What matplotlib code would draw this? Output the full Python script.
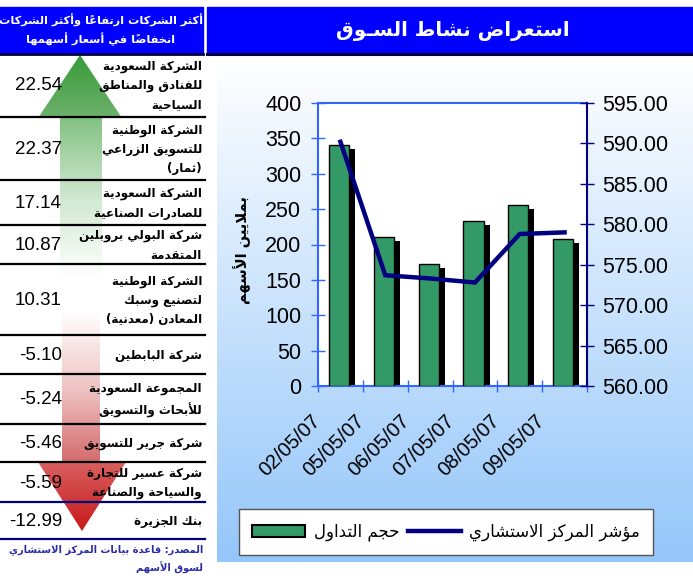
import numpy as np
import matplotlib
matplotlib.use('Agg')
import matplotlib.pyplot as plt
from matplotlib.patches import Rectangle, Polygon, Patch
from matplotlib.lines import Line2D
from matplotlib.colors import to_rgb
from matplotlib.ticker import FormatStrFormatter
from matplotlib.transforms import offset_copy, ScaledTranslation

# ---- data -------------------------------------------------------------
dates = ['02/05/07', '05/05/07', '06/05/07', '07/05/07', '08/05/07', '09/05/07']
volume = [341, 211, 172, 233, 256, 208]          # millions of shares
index_pts = [590.2, 573.7, 573.3, 572.8, 578.8, 579.0]

companies = [
    'الشركة السعودية\nللفنادق والمناطق\nالسياحية',
    'الشركة الوطنية\nللتسويق الزراعي\n(ثمار)',
    'الشركة السعودية\nللصادرات الصناعية',
    'شركة البولي بروبلين\nالمتقدمة',
    'الشركة الوطنية\nلتصنيع وسبك\nالمعادن (معدنية)',
    'شركة البابطين',
    'المجموعة السعودية\nللأبحاث والتسويق',
    'شركة جرير للتسويق',
    'شركة عسير للتجارة\nوالسياحة والصناعة',
    'بنك الجزيرة',
]
changes = [22.54, 22.37, 17.14, 10.87, 10.31, -5.10, -5.24, -5.46, -5.59, -12.99]

title = 'استعراض نشاط السـوق'
side_title = 'أكثر الشركات ارتفاعاً وأكثر الشركات\nانخفاضاً في أسعار أسهمها'
source = 'المصدر: قاعدة بيانات المركز الاستشاري\nلسوق الأسهم'
ylabel = 'بملايين الأسهم'
legend_labels = ['حجم التداول', 'مؤشر المركز الاستشاري']


# ---- minimal arabic shaping (matplotlib has no bidi / joining) ---------
_letters = list(range(0x621, 0x63B)) + list(range(0x641, 0x64B))
_counts = [1, 2, 2, 2, 2, 4, 2, 4, 2, 4, 4, 4, 4, 4, 2, 2, 2, 2, 4, 4, 4, 4, 4, 4, 4, 4,
           4, 4, 4, 4, 4, 4, 4, 2, 2, 4]
FORMS = {}
_pos = 0xFE80
for _cp, _n in zip(_letters, _counts):
    FORMS[chr(_cp)] = [chr(_pos + k) for k in range(_n)]
    _pos += _n
LAMALEF = {'\u0622': ('\uFEF5', '\uFEF6'), '\u0623': ('\uFEF7', '\uFEF8'),
           '\u0625': ('\uFEF9', '\uFEFA'), '\u0627': ('\uFEFB', '\uFEFC')}
MARKS = set(chr(c) for c in range(0x64B, 0x653)) | {'\u0670'}


def _jtype(key):
    if key.startswith('LA') and len(key) == 3:
        return 'R'
    if key == '\u0640':
        return 'D'
    f = FORMS.get(key)
    if f is None:
        return 'U'
    return {1: 'U', 2: 'R', 4: 'D'}[len(f)]


def _shape_line(s):
    units = []
    for ch in s:
        if ch in MARKS and units:
            units[-1][1] += ch
        else:
            units.append([ch, ''])
    merged = []
    i = 0
    while i < len(units):
        ch, mk = units[i]
        if ch == '\u0644' and i + 1 < len(units) and units[i + 1][0] in LAMALEF:
            merged.append(['LA' + units[i + 1][0], mk + units[i + 1][1]])
            i += 2
        else:
            merged.append([ch, mk])
            i += 1
    glyphs = []
    for i, (key, mk) in enumerate(merged):
        t = _jtype(key)
        p = t in 'RD' and i > 0 and _jtype(merged[i - 1][0]) == 'D'
        n = t == 'D' and i + 1 < len(merged) and _jtype(merged[i + 1][0]) in 'RD'
        if key.startswith('LA') and len(key) == 3:
            g = LAMALEF[key[2]][1 if p else 0]
        elif key == '\u0640' or t == 'U':
            g = FORMS[key][0] if key in FORMS else key
        elif t == 'R':
            g = FORMS[key][1 if p else 0]
        else:
            g = FORMS[key][3 if (p and n) else 1 if p else 2 if n else 0]
        g = {'(': ')', ')': '('}.get(g, g)
        glyphs.append(g + mk)
    return ''.join(reversed(glyphs))


def ar(text):
    return '\n'.join(_shape_line(l) for l in text.split('\n'))


# ---- figure -------------------------------------------------------------
W, H = 693, 579
fig = plt.figure(figsize=(W / 100, H / 100), dpi=100)
bg = fig.add_axes([0, 0, 1, 1])
bg.axis('off')

AR = ['DejaVu Sans']
NUM = ['Liberation Sans', 'DejaVu Sans']


def vgrad(pts, stops_y, stops_c, z=1):
    pts = np.array(pts, float)
    x0, x1 = pts[:, 0].min(), pts[:, 0].max()
    y0, y1 = pts[:, 1].min(), pts[:, 1].max()
    ys = np.linspace(y0, y1, 400)
    rgb = np.array([to_rgb(c) for c in stops_c])
    img = np.stack([np.interp(ys, stops_y, rgb[:, k]) for k in range(3)], axis=-1)[:, None, :]
    im = bg.imshow(img, extent=(x0, x1, y1, y0), aspect='auto',
                   interpolation='bilinear', zorder=z)
    poly = Polygon(pts, closed=True, facecolor='none', edgecolor='none')
    bg.add_patch(poly)
    im.set_clip_path(poly)


# light blue backdrop of the chart
vgrad([(217, 58), (693, 58), (693, 562), (217, 562)], [58, 562],
      ['#FFFFFF', '#94C6FA'], z=0)

# header bars
bg.add_patch(Rectangle((0, 7), 203, 46, color='#0000FF', zorder=2))
bg.add_patch(Rectangle((207, 7), 486, 46, color='#0000FF', zorder=2))
bg.plot([0, 203], [53.5, 53.5], color='#000040', lw=2, zorder=3)
bg.plot([207, 693], [53.5, 53.5], color='#000040', lw=2.2, zorder=3)
bg.text(453, 31, ar(title), color='white', fontsize=14.3, fontweight='bold',
        family=AR, ha='center', va='center', zorder=4)
bg.text(101, 30, ar(side_title), color='white', fontsize=8.2, fontweight='bold',
        family=AR, ha='center', va='center', linespacing=1.45, zorder=4)

# arrows
vgrad([(80, 55), (122, 118), (102, 118), (102, 280), (60, 280), (60, 118), (38, 118)],
      [55, 117.5, 118.5, 200, 278],
      ['#389A38', '#6EB26E', '#84C284', '#D2E9D2', '#FFFFFF'])
vgrad([(62, 312), (100, 312), (100, 462), (126, 462), (82, 531), (38, 462), (62, 462)],
      [312, 390, 461.5, 462.5, 531],
      ['#FFFFFF', '#EEC2C2', '#D46C6C', '#D86060', '#C81818'])

# left table
row_edges = [52, 117, 180, 225, 264, 335, 374, 424, 462, 502, 539]
for k, y in enumerate(row_edges[1:]):
    col = '#000080' if k >= len(row_edges) - 3 else 'black'
    bg.plot([0, 205], [y, y], color=col, lw=1.6, zorder=5)
for i, (name, chg) in enumerate(zip(companies, changes)):
    yc = (row_edges[i] + row_edges[i + 1]) / 2
    bg.text(62, yc + 1, f'{chg:.2f}', ha='right', va='center', fontsize=13.5,
            family=NUM, zorder=6)
    bg.text(202, yc + 1, ar(name), ha='right', va='center', fontsize=8.6,
            fontweight='bold', family=AR, linespacing=1.6,
            multialignment='right', zorder=6)
bg.text(203, 559, ar(source), ha='right', va='center', fontsize=7.1,
        fontweight='bold', family=AR, color='#2A2AA8', linespacing=1.7,
        multialignment='right', zorder=6)
bg.text(242, 250, ar(ylabel), rotation=90, ha='center', va='center',
        fontsize=10.5, fontweight='bold', family=AR)

bg.set_xlim(0, W)
bg.set_ylim(H, 0)

# ---- main chart -----------------------------------------------------------
BLUE = '#3366FF'
NAVY = '#000080'
ax = fig.add_axes([318 / W, 1 - 386 / H, 269 / W, 283 / H])
ax.set_facecolor('white')
x = np.arange(len(dates))
shadow = offset_copy(ax.transData, fig=fig, x=6, y=-4, units='dots')
ax.bar(x - 0.03, volume, 0.45, color='black', transform=shadow, zorder=2)
ax.bar(x - 0.03, volume, 0.45, color='#339966', edgecolor='black', lw=1, zorder=3)
ax.set_xlim(-0.5, len(dates) - 0.5)
ax.set_ylim(0, 400)
ax.set_yticks(range(0, 401, 50))
ax.set_xticks(np.arange(-0.5, len(dates), 1), minor=True)
ax.set_xticks(x, labels=dates, rotation=45, ha='right', rotation_mode='anchor')
ax.tick_params(axis='x', which='major', length=0, labelsize=14.5, pad=18)
ax.tick_params(axis='x', which='minor', direction='inout', length=9, width=1, color=BLUE)
ax.tick_params(axis='y', direction='inout', length=10, width=1, color=BLUE,
               labelsize=15.5, pad=7)
shift = ScaledTranslation(-30 / 100, 0, fig.dpi_scale_trans)
for lab in ax.get_xticklabels():
    lab.set_fontfamily(NUM)
    lab.set_transform(lab.get_transform() + shift)
for lab in ax.get_yticklabels():
    lab.set_fontfamily(NUM)
for s in ['left', 'top', 'bottom']:
    ax.spines[s].set_color(BLUE)
    ax.spines[s].set_linewidth(1.5)
ax.spines['right'].set_visible(False)

ax2 = ax.twinx()
ax2.plot(x, index_pts, color=NAVY, lw=3.2, solid_joinstyle='miter', zorder=5)
ax2.set_ylim(560, 595)
ax2.set_yticks(np.arange(560, 596, 5))
ax2.yaxis.set_major_formatter(FormatStrFormatter('%.2f'))
ax2.tick_params(axis='y', direction='inout', length=10, width=1, color=NAVY,
                labelsize=15.5, pad=6)
for lab in ax2.get_yticklabels():
    lab.set_fontfamily(NUM)
for s in ['left', 'top', 'bottom']:
    ax2.spines[s].set_visible(False)
ax2.spines['right'].set_color(NAVY)
ax2.spines['right'].set_linewidth(1.5)

handles = [Patch(facecolor='#339966', edgecolor='black', lw=1.5),
           Line2D([], [], color=NAVY, lw=3.2)]
leg = fig.legend(handles, [ar(t) for t in legend_labels], ncol=2, loc='center',
                 bbox_to_anchor=(446 / W, 1 - 532 / H), fancybox=False,
                 edgecolor='#555555', framealpha=1, handlelength=3.2,
                 handleheight=0.75, handletextpad=0.5, columnspacing=0.5,
                 borderpad=0.8, prop={'family': AR, 'size': 12})
leg.get_frame().set_linewidth(1)

fig.savefig('out.png', dpi=100)
